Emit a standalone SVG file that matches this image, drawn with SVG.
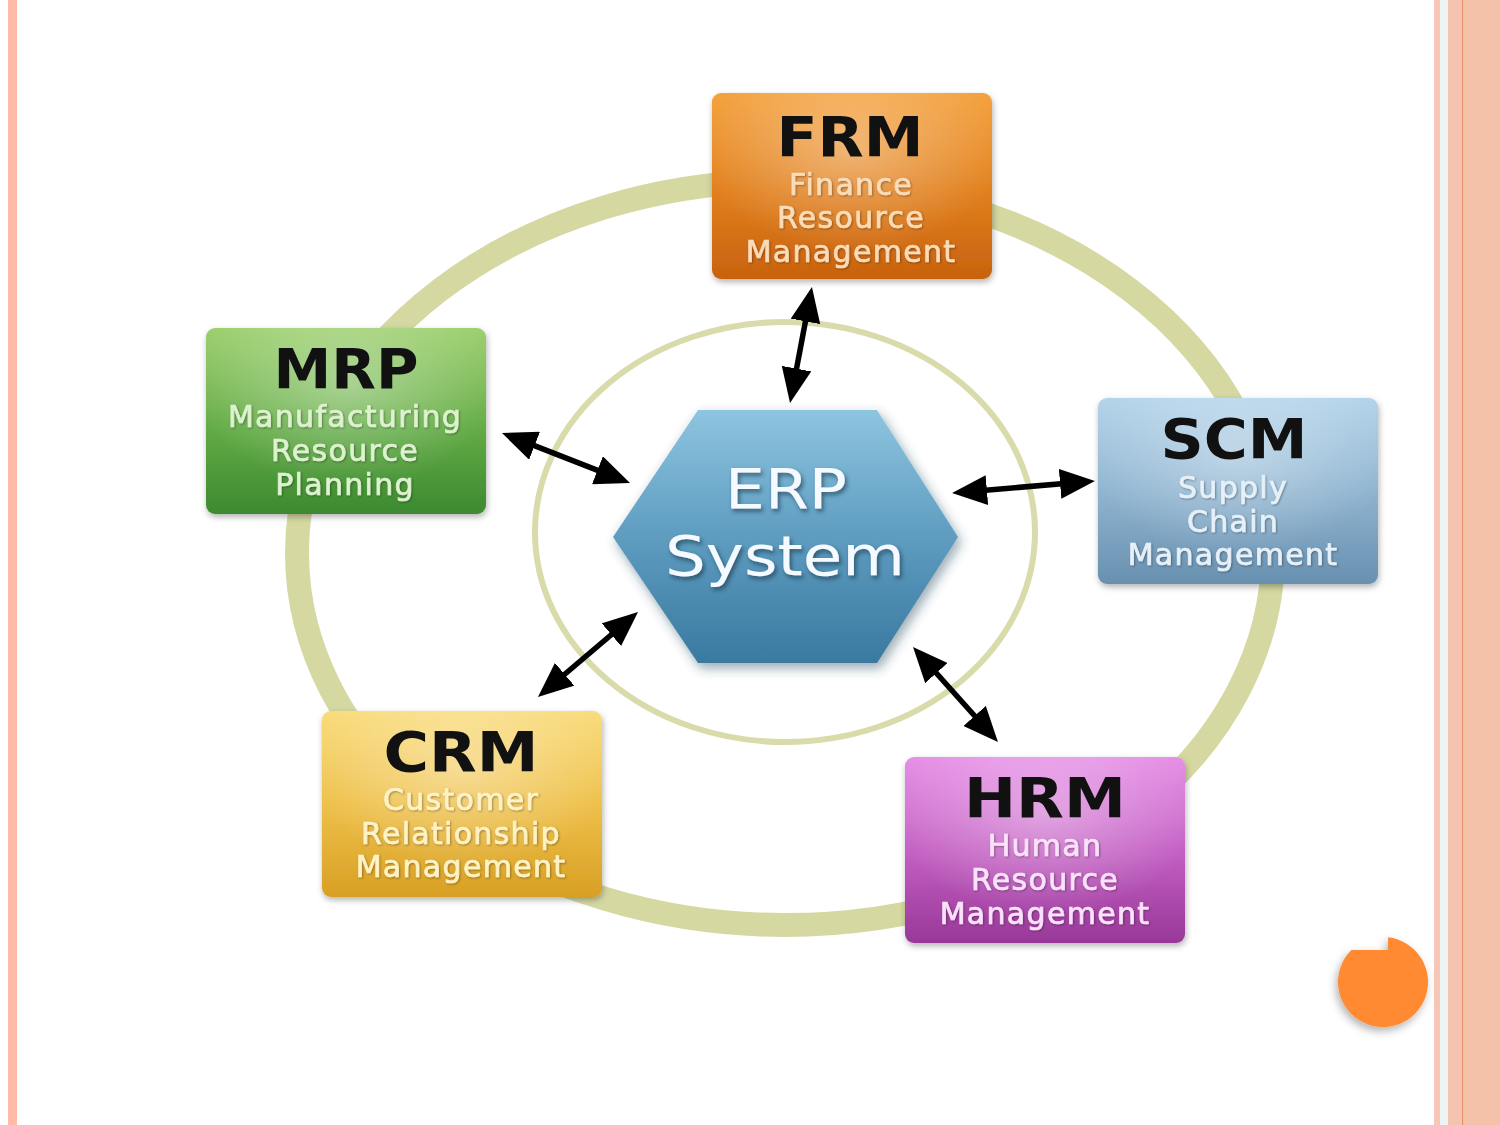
<svg xmlns="http://www.w3.org/2000/svg" width="1500" height="1125" viewBox="0 0 1500 1125">
<style>
.title{font-family:"DejaVu Sans",Verdana,sans-serif;font-weight:bold;font-size:55px;fill:#111;text-anchor:middle}
.sub{font-family:"DejaVu Sans",Verdana,sans-serif;font-size:30px;letter-spacing:1.3px;text-anchor:middle;stroke-width:0.7px}
.erp{font-family:"DejaVu Sans",Verdana,sans-serif;font-size:55px;fill:#F4FAFF;text-anchor:middle}
.box{filter:url(#bshadow)}
.arrow{stroke:#000;stroke-width:5.5;fill:none;marker-start:url(#ah);marker-end:url(#ah)}
.hl{fill:url(#glow)}
</style>
<defs>
<linearGradient id="gFRM" x1="0" y1="0" x2="0" y2="1"><stop offset="0" stop-color="#F4A23E"/><stop offset="0.55" stop-color="#E07E1C"/><stop offset="1" stop-color="#C8620F"/></linearGradient>
<linearGradient id="gMRP" x1="0" y1="0" x2="0" y2="1"><stop offset="0" stop-color="#9ED070"/><stop offset="0.5" stop-color="#66AE48"/><stop offset="1" stop-color="#3C8A30"/></linearGradient>
<linearGradient id="gSCM" x1="0" y1="0" x2="0" y2="1"><stop offset="0" stop-color="#B4D4EA"/><stop offset="0.5" stop-color="#8FB4D0"/><stop offset="1" stop-color="#6890B0"/></linearGradient>
<linearGradient id="gCRM" x1="0" y1="0" x2="0" y2="1"><stop offset="0" stop-color="#F9DC7C"/><stop offset="0.5" stop-color="#EEC04A"/><stop offset="1" stop-color="#D8A024"/></linearGradient>
<linearGradient id="gHRM" x1="0" y1="0" x2="0" y2="1"><stop offset="0" stop-color="#E690E6"/><stop offset="0.5" stop-color="#C460C4"/><stop offset="1" stop-color="#983898"/></linearGradient>
<linearGradient id="gHex" x1="0" y1="0" x2="0" y2="1"><stop offset="0" stop-color="#8EC5E0"/><stop offset="0.5" stop-color="#5E9CC0"/><stop offset="1" stop-color="#3A79A0"/></linearGradient>
<radialGradient id="glow" cx="0.5" cy="0.3" r="0.55"><stop offset="0" stop-color="#fff" stop-opacity="0.35"/><stop offset="1" stop-color="#fff" stop-opacity="0"/></radialGradient>
<filter id="bshadow" x="-10%" y="-10%" width="120%" height="125%"><feDropShadow dx="1" dy="3" stdDeviation="3" flood-color="#000" flood-opacity="0.3"/></filter>
<filter id="hshadow" x="-15%" y="-15%" width="130%" height="135%"><feDropShadow dx="3" dy="5" stdDeviation="6" flood-color="#1a3a50" flood-opacity="0.45"/></filter>
<filter id="tshadow" x="-10%" y="-20%" width="120%" height="150%"><feDropShadow dx="2" dy="3" stdDeviation="2" flood-color="#0d2a3d" flood-opacity="0.6"/></filter>
<filter id="sshadow" x="-10%" y="-20%" width="120%" height="150%"><feDropShadow dx="1" dy="1" stdDeviation="1" flood-color="#000" flood-opacity="0.35"/></filter>
<filter id="cshadow" x="-30%" y="-30%" width="160%" height="170%"><feDropShadow dx="-2" dy="4" stdDeviation="4" flood-color="#000" flood-opacity="0.3"/></filter>
<marker id="ah" markerUnits="userSpaceOnUse" markerWidth="36" markerHeight="30" viewBox="0 0 36 30" refX="25" refY="15" orient="auto-start-reverse"><path d="M0,0 L35,15 L0,30 Z" fill="#000"/></marker>
</defs>
<rect x="0" y="0" width="1500" height="1125" fill="#fff"/>
<!-- page borders -->
<rect x="8" y="0" width="9" height="1125" fill="#FFBBA8"/>
<rect x="1434" y="0" width="6" height="1125" fill="#F8C6B6"/>
<rect x="1440" y="0" width="8" height="1125" fill="#EEF3F3"/>
<rect x="1448" y="0" width="14" height="1125" fill="#F4C4B0"/>
<rect x="1462" y="0" width="1.6" height="1125" fill="#E8906C"/>
<rect x="1463.6" y="0" width="36.4" height="1125" fill="#F4C1A9"/>
<!-- rings -->
<ellipse cx="785" cy="553" rx="488" ry="372" fill="none" stroke="#D6D8A2" stroke-width="24"/>
<ellipse cx="785" cy="532" rx="250" ry="210" fill="none" stroke="#D9DBAA" stroke-width="6"/>
<!-- center -->
<g id="node-erp">
<polygon points="698,410 877,410 958,537 877,663 698,663 613,537" fill="url(#gHex)" filter="url(#hshadow)"/>
<g filter="url(#tshadow)">
<text class="erp" x="786" y="508" textLength="122" lengthAdjust="spacingAndGlyphs">ERP</text>
<text class="erp" x="785" y="575" textLength="240" lengthAdjust="spacingAndGlyphs">System</text>
</g>
</g>
<!-- connectors -->
<g id="connectors">
<line class="arrow" x1="810.1" y1="296.8" x2="791.9" y2="393.2"/>
<line class="arrow" x1="511.3" y1="436.6" x2="620.7" y2="479.4"/>
<line class="arrow" x1="962" y1="492.2" x2="1085" y2="481.8"/>
<line class="arrow" x1="545.6" y1="690.5" x2="630.4" y2="618.5"/>
<line class="arrow" x1="919.7" y1="654.5" x2="991.3" y2="734.5"/>
</g>
<!-- nodes -->
<g id="node-frm">
<rect class="box" x="712" y="93" width="280" height="186" rx="9" fill="url(#gFRM)"/>
<rect class="hl" x="712" y="93" width="280" height="186" rx="9"/>
<text class="title" x="850" y="156" textLength="147" lengthAdjust="spacingAndGlyphs">FRM</text>
<g filter="url(#sshadow)" fill="#FADCB8" stroke="#FADCB8">
<text class="sub" x="851" y="195">Finance</text>
<text class="sub" x="851" y="228">Resource</text>
<text class="sub" x="851" y="262">Management</text>
</g>
</g>
<g id="node-mrp">
<rect class="box" x="206" y="328" width="280" height="186" rx="9" fill="url(#gMRP)"/>
<rect class="hl" x="206" y="328" width="280" height="186" rx="9"/>
<text class="title" x="346" y="388" textLength="145" lengthAdjust="spacingAndGlyphs">MRP</text>
<g filter="url(#sshadow)" fill="#DDF2CE" stroke="#DDF2CE">
<text class="sub" x="345" y="427">Manufacturing</text>
<text class="sub" x="345" y="461">Resource</text>
<text class="sub" x="345" y="495">Planning</text>
</g>
</g>
<g id="node-scm">
<rect class="box" x="1098" y="398" width="280" height="186" rx="9" fill="url(#gSCM)"/>
<rect class="hl" x="1098" y="398" width="280" height="186" rx="9"/>
<text class="title" x="1234" y="458" textLength="147" lengthAdjust="spacingAndGlyphs">SCM</text>
<g filter="url(#sshadow)" fill="#E6F0F8" stroke="#E6F0F8">
<text class="sub" x="1233" y="498">Supply</text>
<text class="sub" x="1233" y="532">Chain</text>
<text class="sub" x="1233" y="565">Management</text>
</g>
</g>
<g id="node-crm">
<rect class="box" x="322" y="711" width="280" height="186" rx="9" fill="url(#gCRM)"/>
<rect class="hl" x="322" y="711" width="280" height="186" rx="9"/>
<text class="title" x="461" y="771" textLength="155" lengthAdjust="spacingAndGlyphs">CRM</text>
<g filter="url(#sshadow)" fill="#FFF2C4" stroke="#FFF2C4">
<text class="sub" x="461" y="810">Customer</text>
<text class="sub" x="461" y="844">Relationship</text>
<text class="sub" x="461" y="877">Management</text>
</g>
</g>
<g id="node-hrm">
<rect class="box" x="905" y="757" width="280" height="186" rx="9" fill="url(#gHRM)"/>
<rect class="hl" x="905" y="757" width="280" height="186" rx="9"/>
<text class="title" x="1045" y="817" textLength="162" lengthAdjust="spacingAndGlyphs">HRM</text>
<g filter="url(#sshadow)" fill="#FAE2FA" stroke="#FAE2FA">
<text class="sub" x="1045" y="856">Human</text>
<text class="sub" x="1045" y="890">Resource</text>
<text class="sub" x="1045" y="924">Management</text>
</g>
</g>
<!-- orange decorative circle -->
<path d="M1388,937.3 A45,45 0 1 1 1351.4,950 L1388,950 Z" fill="#FF8A33" filter="url(#cshadow)"/>
</svg>
